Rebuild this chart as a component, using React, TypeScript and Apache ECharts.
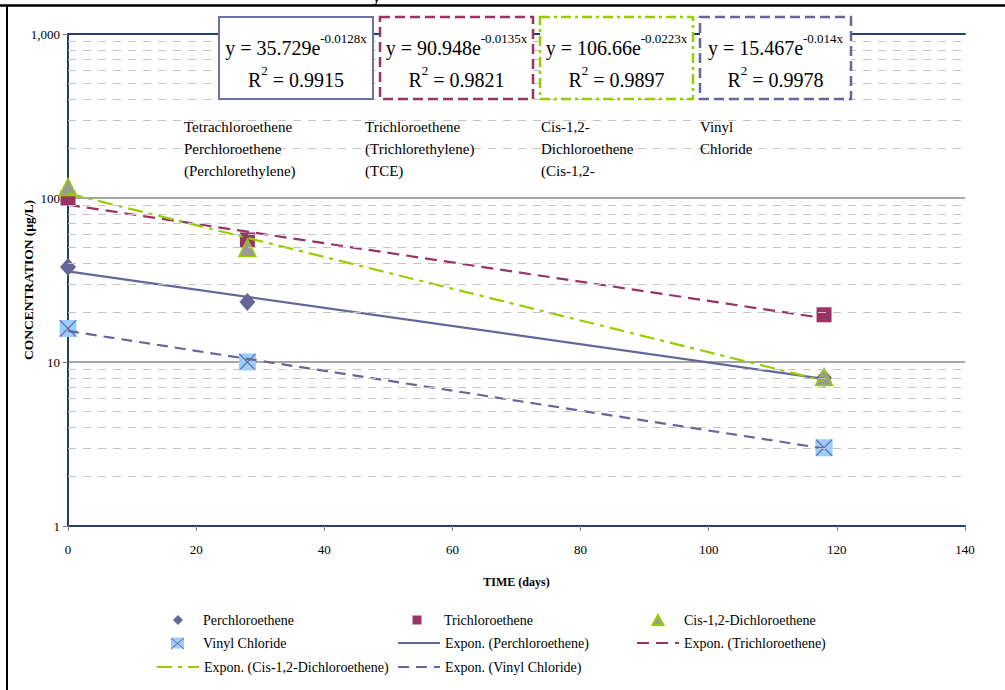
import React, { useEffect, useRef } from "react";
import * as echarts from "echarts";

const FONT = "'Liberation Serif', 'Times New Roman', serif";

// ---- data ----
const days = [0, 28, 118];
const perchloroethene = [38, 23.2, 8];
const trichloroethene = [100, 55.5, 19.4];
const dichloroethene = [116.7, 49.6, 8.1];
const vinylChloride = [16, 10, 3];

// exponential trend lines (straight on log axis): values at start and end
const trendDays = [0, 118];
const perchloroTrend = [35.729, 7.89];
const trichloroTrend = [90.948, 18.49];
const dichloroTrend = [106.66, 7.68];
const vinylTrend = [15.467, 2.97];

const minorGridValues = [2, 3, 4, 5, 6, 7, 8, 9, 20, 30, 40, 50, 60, 70, 80, 90, 200, 300, 400, 500, 600, 700, 800, 900];

const equationBase = ["y = 35.729e", "y = 90.948e", "y = 106.66e", "y = 15.467e"];
const equationExp = ["-0.0128x", "-0.0135x", "-0.0223x", "-0.014x"];
const rSquared = ["0.9915", "0.9821", "0.9897", "0.9978"];

const compoundLabels = [
  "Tetrachloroethene\nPerchloroethene\n(Perchlorethylene)",
  "Trichloroethene\n(Trichlorethylene)\n(TCE)",
  "Cis-1,2-\nDichloroethene\n(Cis-1,2-",
  "Vinyl\nChloride",
];

const seriesNames = [
  "Perchloroethene",
  "Trichloroethene",
  "Cis-1,2-Dichloroethene",
  "Vinyl Chloride",
  "Expon. (Perchloroethene)",
  "Expon. (Trichloroethene)",
  "Expon. (Cis-1,2-Dichloroethene)",
  "Expon. (Vinyl Chloride)",
];

const zip = (xs: number[], ys: number[]) => xs.map((x, i) => [x, ys[i]]);

const X_PATH =
  "path://M1,0 L10,9 L19,0 L20,1 L11,10 L20,19 L19,20 L10,11 L1,20 L0,19 L9,10 L0,1 Z";

const NAVY = "#24406A";

function buildOption() {
  const boxes = [
    { x: 219, w: 154, color: "#7070A8", dash: null as number[] | null },
    { x: 380, w: 153, color: "#993366", dash: [10, 5] },
    { x: 540, w: 153, color: "#99CC00", dash: [10, 4, 3, 4] },
    { x: 700, w: 151, color: "#666699", dash: [10, 5] },
  ];
  const labelX = [184, 365, 541, 700];

  const graphic: any[] = [
    { type: "line", shape: { x1: 0, y1: 5.5, x2: 1005, y2: 5.5 }, style: { stroke: "#000", lineWidth: 2.5 }, z: 100 },
    { type: "line", shape: { x1: 7, y1: 5.5, x2: 7, y2: 690 }, style: { stroke: "#000", lineWidth: 2 }, z: 100 },
    { type: "text", x: 372, y: -13, style: { text: "y", font: `bold 18px ${FONT}`, fill: "#000", textVerticalAlign: "top" }, z: 100 },
  ];
  boxes.forEach((b, i) => {
    graphic.push({
      type: "rect",
      shape: { x: b.x, y: 17, width: b.w, height: 82 },
      style: { fill: "#fff", stroke: b.color, lineWidth: b.dash ? 2.5 : 2, lineDash: b.dash || undefined },
      z: 50,
    });
    graphic.push({
      type: "text",
      x: b.x + b.w / 2,
      y: 32,
      style: {
        text: `{b|${equationBase[i]}}{s|${equationExp[i]}}\n{b|R}{s|2}{b| = ${rSquared[i]}}`,
        align: "center",
        verticalAlign: "top",
        fill: "#000",
        rich: {
          b: { fontSize: 20, fontFamily: FONT, lineHeight: 32, fill: "#000" },
          s: { fontSize: 13, fontFamily: FONT, lineHeight: 13, verticalAlign: "top", fill: "#000" },
        },
      },
      z: 51,
    });
  });
  compoundLabels.forEach((t, i) => {
    graphic.push({
      type: "text",
      x: labelX[i],
      y: 116,
      style: { text: t, font: `15px ${FONT}`, lineHeight: 22, fill: "#000", textVerticalAlign: "top" },
      z: 40,
    });
  });
  // X on the vinyl chloride legend square
  graphic.push({ type: "line", shape: { x1: 171, y1: 638, x2: 184, y2: 649 }, style: { stroke: "#666699", lineWidth: 1 }, z: 60 });
  graphic.push({ type: "line", shape: { x1: 184, y1: 638, x2: 171, y2: 649 }, style: { stroke: "#666699", lineWidth: 1 }, z: 60 });

  const textX = [203, 444, 683];
  const rowCenter = [620, 643, 667];
  // [column, row, icon centre x (marker items) or null (line items), icon width, icon height]
  const legendPlaces: [number, number, number | null, number, number][] = [
    [0, 0, 178, 10, 10],
    [1, 0, 417, 9, 9],
    [2, 0, 657, 11, 10],
    [0, 1, 177.5, 13, 11],
    [1, 1, null, 42, 12],
    [2, 1, null, 42, 12],
    [0, 2, null, 42, 12],
    [1, 2, null, 42, 12],
  ];
  const legend = legendPlaces.map(([c, r, cx, w, h], i) => {
    const left = cx === null ? textX[c] - 5 - w : cx - w / 2;
    const pad = textX[c] - (left + w + 5);
    const item: any = { name: seriesNames[i] };
    if (cx === null) item.itemStyle = { color: "rgba(0,0,0,0)", borderColor: "rgba(0,0,0,0)", borderWidth: 0 };
    return {
      data: [item],
      left,
      top: rowCenter[r] - 8,
      itemWidth: w,
      itemHeight: h,
      itemGap: 0,
      padding: 0,
      selectedMode: false,
      textStyle: { fontFamily: FONT, fontSize: 14, color: "#000", lineHeight: 16, padding: [0, 0, 0, pad] },
    };
  });

  const trendLine = (name: string, vals: number[], color: string, type: any) => ({
    name,
    type: "line",
    data: zip(trendDays, vals),
    symbol: "none",
    showSymbol: false,
    lineStyle: { color, width: 2.2, type },
    itemStyle: { color },
    z: 4,
  });

  return {
    animation: false,
    backgroundColor: "#fff",
    grid: { left: 68, right: 40, top: 34, bottom: 164, show: false },
    legend,
    graphic,
    xAxis: [
      {
        type: "value",
        min: 0,
        max: 140,
        interval: 20,
        name: "TIME (days)",
        nameLocation: "middle",
        nameGap: 50,
        nameTextStyle: { fontFamily: FONT, fontWeight: "bold", fontSize: 12, color: "#000" },
        axisLine: { show: true, onZero: false, lineStyle: { color: NAVY, width: 2 } },
        axisTick: { show: true, length: 5, lineStyle: { color: "#808080" } },
        axisLabel: { fontFamily: FONT, fontSize: 13, color: "#000", margin: 17 },
        splitLine: { show: false },
      },
      {
        type: "value",
        position: "top",
        min: 0,
        max: 140,
        axisLine: { show: true, onZero: false, lineStyle: { color: NAVY, width: 2 } },
        axisTick: { show: false },
        axisLabel: { show: false },
        splitLine: { show: false },
      },
    ],
    yAxis: [
      {
        type: "log",
        logBase: 10,
        min: 1,
        max: 1000,
        name: "CONCENTRATION (µg/L)",
        nameLocation: "middle",
        nameGap: 33,
        nameMoveOverlap: false,
        nameTextStyle: { fontFamily: FONT, fontWeight: "bold", fontSize: 13.5, color: "#000" },
        axisLine: { show: true, lineStyle: { color: NAVY, width: 2 } },
        axisTick: { show: true, length: 5, lineStyle: { color: "#808080" } },
        axisLabel: {
          fontFamily: FONT,
          fontSize: 13,
          color: "#000",
          margin: 8,
          formatter: (v: number) => Math.round(v).toLocaleString("en-US"),
        },
        splitLine: { show: true, lineStyle: { color: "#A6A6A6", width: 2 } },
      },
      {
        type: "value",
        position: "right",
        min: 0,
        max: 1,
        axisLine: { show: true, lineStyle: { color: NAVY, width: 2 } },
        axisTick: { show: false },
        axisLabel: { show: false },
        splitLine: { show: false },
      },
    ],
    series: [
      {
        name: "minor-grid",
        type: "line",
        data: [],
        z: 1,
        markLine: {
          silent: true,
          symbol: ["none", "none"],
          label: { show: false },
          lineStyle: { color: "#C4C4C4", width: 1, type: [8, 7] },
          data: minorGridValues.map((v) => ({ yAxis: v })),
        },
      },
      {
        name: seriesNames[0],
        type: "scatter",
        data: zip(days, perchloroethene),
        symbol: "diamond",
        symbolSize: [16, 18],
        itemStyle: { color: "#666699", opacity: 1 },
        z: 3,
      },
      {
        name: seriesNames[1],
        type: "scatter",
        data: zip(days, trichloroethene),
        symbol: "rect",
        symbolSize: 15,
        itemStyle: { color: "#993366", opacity: 1 },
        z: 3,
      },
      {
        name: seriesNames[2],
        type: "scatter",
        data: zip(days, dichloroethene),
        symbol: "triangle",
        symbolSize: 17,
        itemStyle: { color: "#999999", borderColor: "#99CC00", borderWidth: 1.5, opacity: 1 },
        z: 3,
      },
      {
        name: seriesNames[3],
        type: "scatter",
        data: zip(days, vinylChloride),
        symbol: "rect",
        symbolSize: 17,
        itemStyle: { color: "#99CCFF", opacity: 1 },
        z: 3,
      },
      {
        name: "vinyl-x",
        type: "scatter",
        data: zip(days, vinylChloride),
        symbol: X_PATH,
        symbolSize: 17,
        itemStyle: { color: "#666699", opacity: 1 },
        z: 3,
      },
      trendLine(seriesNames[4], perchloroTrend, "#666699", "solid"),
      trendLine(seriesNames[5], trichloroTrend, "#993366", [12, 7]),
      trendLine(seriesNames[6], dichloroTrend, "#99CC00", [15, 6, 4, 6]),
      trendLine(seriesNames[7], vinylTrend, "#666699", [11, 7]),
    ],
  };
}

export default function App() {
  const ref = useRef<HTMLDivElement>(null);
  useEffect(() => {
    document.body.style.margin = "0";
    if (!ref.current) return;
    const chart = echarts.init(ref.current, null, { renderer: "svg" });
    chart.setOption(buildOption() as any);
    return () => chart.dispose();
  }, []);
  return <div ref={ref} style={{ width: 1005, height: 690 }} />;
}
